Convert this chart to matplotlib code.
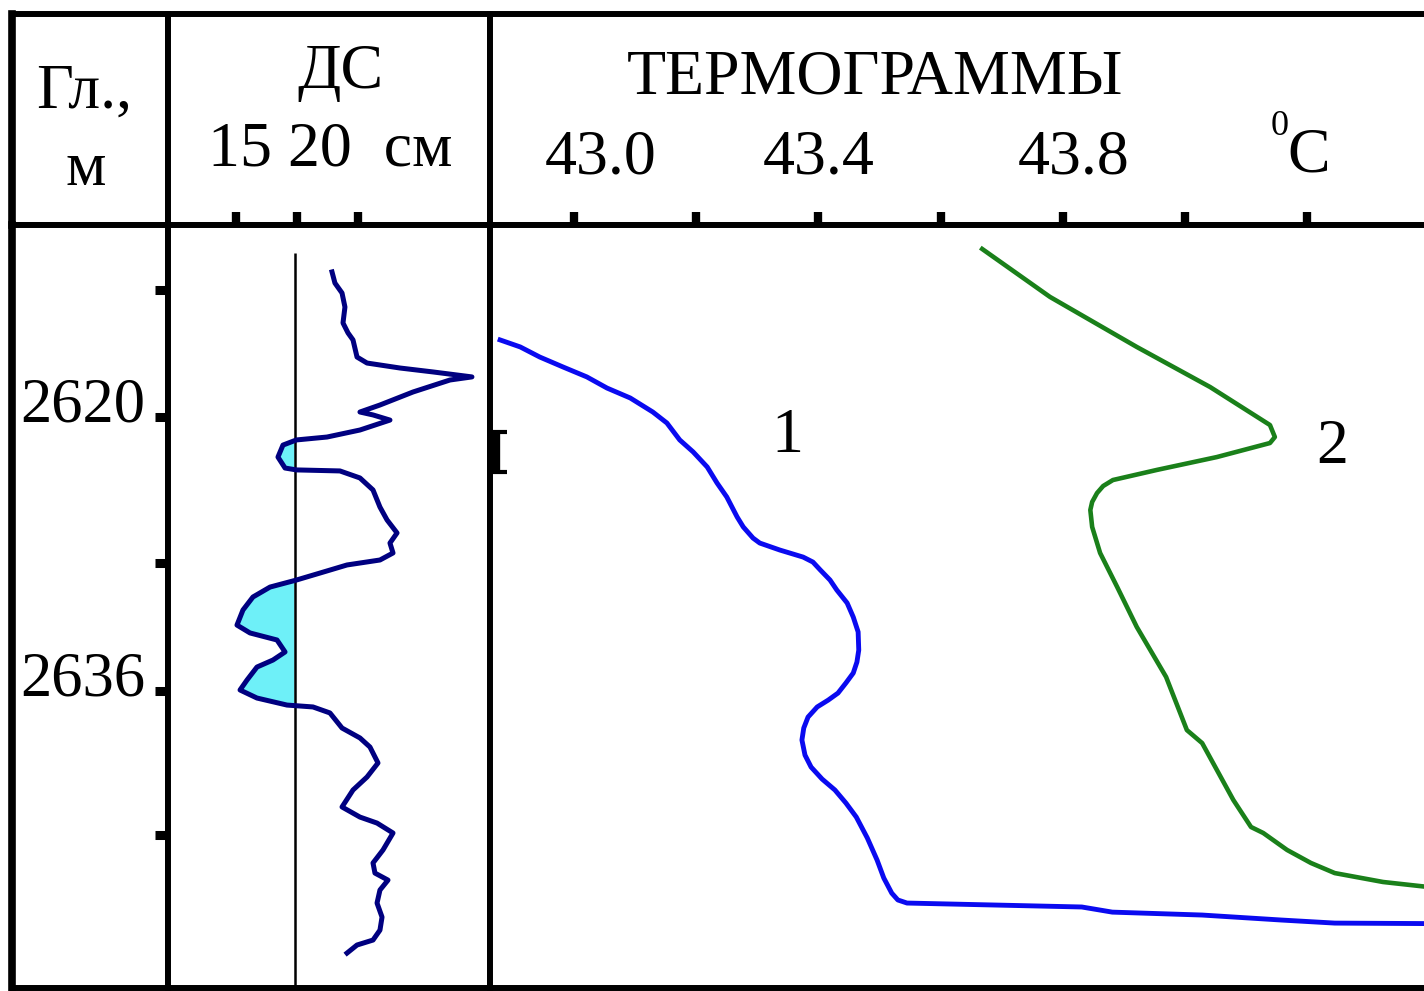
import matplotlib
matplotlib.use("Agg")
import matplotlib.pyplot as plt
from matplotlib.transforms import blended_transform_factory

plt.rcParams["font.family"] = ["Liberation Serif", "DejaVu Serif"]

depth_major = [2620, 2636]
depth_minor = [2612.6, 2628.5, 2644.4]

# caliper (ДС), cm
cal_ticks = [15, 20, 25]
cal_nominal = 19.8
cal_ref_top = 2610.4
cal_depth = [2611.53, 2612.18, 2612.76, 2613.58, 2614.51, 2615.09, 2615.50, 2616.50,
             2616.85, 2617.14, 2617.37, 2617.66, 2617.84, 2618.54, 2619.30, 2619.71,
             2619.88, 2620.18, 2620.76, 2621.17, 2621.34, 2621.64, 2622.34, 2622.98,
             2623.09, 2623.15, 2623.56, 2624.26, 2625.26, 2626.01, 2626.77, 2627.36,
             2627.94, 2628.35, 2628.64, 2629.11, 2629.52, 2629.93, 2630.51, 2631.27,
             2632.15, 2632.61, 2633.02, 2633.72, 2634.19, 2634.60, 2635.36, 2635.94,
             2636.41, 2636.82, 2636.93, 2637.28, 2638.16, 2638.74, 2639.27, 2640.20,
             2641.02, 2641.78, 2642.77, 2643.36, 2643.71, 2644.29, 2645.28, 2646.04,
             2646.63, 2647.04, 2647.62, 2648.38, 2649.20, 2649.96, 2650.54, 2650.83,
             2651.30]
cal_cm = [22.87, 23.11, 23.69, 23.93, 23.77, 24.18, 24.59, 24.92,
          25.74, 28.44, 31.15, 34.34, 32.54, 29.51, 26.80, 25.16,
          26.23, 27.62, 25.16, 22.46, 19.95, 18.85, 18.44, 19.02,
          19.95, 23.52, 25.16, 26.23, 26.80, 27.38, 28.20, 27.62,
          27.87, 26.80, 24.10, 21.89, 19.95, 17.79, 16.39, 15.57,
          15.08, 16.15, 18.36, 19.02, 18.03, 16.72, 15.90, 15.33,
          16.72, 19.18, 21.31, 22.70, 23.69, 25.16, 25.98, 26.64,
          25.74, 24.59, 23.69, 25.16, 26.56, 27.87, 27.05, 26.23,
          26.39, 27.46, 26.80, 26.56, 26.97, 26.80, 26.23, 24.92,
          24.10]

# thermograms, deg C
temp_ticks = [43.0, 43.2, 43.4, 43.6, 43.8, 44.0, 44.2]
temp_labels = ["43.0", "43.4", "43.8"]
temp_label_vals = [43.0, 43.4, 43.8]
temp_unit_val = 44.2

t1_depth = [2615.50, 2615.91, 2616.50, 2617.08, 2617.66, 2618.31, 2618.89, 2619.71,
            2620.35, 2621.34, 2622.04, 2622.92, 2623.85, 2624.67, 2625.84, 2626.42,
            2627.07, 2627.36, 2627.77, 2628.18, 2628.47, 2628.93, 2629.52, 2630.10,
            2630.86, 2631.68, 2632.55, 2633.61, 2634.31, 2634.95, 2635.53, 2636.12,
            2636.53, 2636.93, 2637.52, 2638.16, 2638.86, 2639.74, 2640.44, 2641.14,
            2641.78, 2642.54, 2643.36, 2644.58, 2645.87, 2646.92, 2647.80, 2648.20,
            2648.38, 2648.61, 2648.91, 2649.08, 2649.37, 2649.55, 2649.58]
t1_temp = [42.879, 42.912, 42.944, 42.982, 43.021, 43.054, 43.092, 43.129,
           43.152, 43.173, 43.195, 43.218, 43.234, 43.250, 43.267, 43.277,
           43.293, 43.304, 43.337, 43.375, 43.391, 43.403, 43.419, 43.430,
           43.447, 43.457, 43.465, 43.466, 43.463, 43.457, 43.445, 43.432,
           43.416, 43.398, 43.383, 43.376, 43.373, 43.378, 43.388, 43.406,
           43.427, 43.445, 43.462, 43.480, 43.496, 43.507, 43.520, 43.530,
           43.545, 43.831, 43.881, 44.028, 44.157, 44.245, 44.40]

t2_depth = [2610.19, 2612.99, 2615.91, 2618.25, 2620.47, 2621.17, 2621.52, 2622.34,
            2623.09, 2623.68, 2624.03, 2624.44, 2624.96, 2625.43, 2626.42, 2627.94,
            2629.93, 2632.26, 2635.18, 2638.28, 2639.04, 2642.36, 2643.94, 2644.29,
            2645.28, 2646.04, 2646.63, 2647.15, 2647.45]
t2_temp = [43.668, 43.779, 43.921, 44.041, 44.139, 44.147, 44.139, 44.052,
           43.954, 43.882, 43.866, 43.856, 43.848, 43.845, 43.848, 43.861,
           43.889, 43.921, 43.969, 44.003, 44.028, 44.079, 44.108, 44.128,
           44.167, 44.206, 44.245, 44.324, 44.40]

curve_names = ["1", "2"]
curve_name_pos = [(43.349, 2622.04), (44.241, 2622.69)]

interval = (2620.9, 2623.2)

# ---- layout (pixels of the 1424x991 sheet) ----
W, H = 1424, 991
fig = plt.figure(figsize=(W / 100, H / 100), dpi=100)


def box(x0, y0, x1, y1):
    return [x0 / W, 1 - y1 / H, (x1 - x0) / W, (y1 - y0) / H]


def fx(x):
    return x / W


def fy(y):
    return 1 - y / H


X0, X1, X2, X3 = 12, 168, 490, 1460
Y0, Y1, Y2 = 14, 225, 988
LW = 4.3
FS = 46

ylim = (2653.34, 2608.79)
cal_xlim = (9.426, 35.82)
temp_xlim = (42.8625, 44.450)

# header cells
ax_h0 = fig.add_axes(box(X0, Y0, X1, Y1))
ax_h1 = fig.add_axes(box(X1, Y0, X2, Y1))
ax_h2 = fig.add_axes(box(X2, Y0, X3, Y1))
# log tracks
ax_d = fig.add_axes(box(X0, Y1, X1, Y2))
ax_c = fig.add_axes(box(X1, Y1, X2, Y2))
ax_t = fig.add_axes(box(X2, Y1, X3, Y2))

for ax in [ax_h0, ax_h1, ax_h2, ax_d, ax_c, ax_t]:
    for s in ax.spines.values():
        s.set_linewidth(LW)
        s.set_color("black")
    ax.set_xticks([])
    ax.set_yticks([])
ax_h0.spines["left"].set_linewidth(5.5)
ax_d.spines["left"].set_linewidth(5.5)

ax_h1.set_xlim(cal_xlim)
ax_c.set_xlim(cal_xlim)
ax_h2.set_xlim(temp_xlim)
ax_t.set_xlim(temp_xlim)
for ax in [ax_d, ax_c, ax_t]:
    ax.set_ylim(ylim)

# scale ticks at the bottom of the header
ax_h1.set_xticks(cal_ticks)
ax_h2.set_xticks(temp_ticks)
for ax in [ax_h1, ax_h2]:
    ax.tick_params(axis="x", direction="in", length=9.5, width=6,
                   labelbottom=False, color="black")

# depth ticks
ax_d.set_yticks(depth_major + depth_minor)
ax_d.yaxis.set_ticks_position("right")
ax_d.tick_params(axis="y", direction="in", length=9.5, width=6.5,
                 labelleft=False, labelright=False)
trans_depth = blended_transform_factory(fig.transFigure, ax_d.transData)
for d in depth_major:
    ax_d.annotate(f"{d}", xy=(fx(145), d), xycoords=trans_depth,
                  xytext=(0, -3), textcoords="offset points",
                  ha="right", va="baseline", fontsize=FS - 1)

# header text
fig.text(fx(84), fy(108), "Гл.,", ha="center", va="baseline", fontsize=FS)
fig.text(fx(86), fy(185), "м", ha="center", va="baseline", fontsize=FS)
fig.text(fx(340), fy(88), "ДС", ha="center", va="baseline", fontsize=FS)
fig.text(fx(330), fy(165), "15 20  см", ha="center", va="baseline", fontsize=FS)
fig.text(fx(875), fy(93), "ТЕРМОГРАММЫ", ha="center", va="baseline", fontsize=FS)

trans_temp = blended_transform_factory(ax_h2.transData, fig.transFigure)
label_shift = [19, 0, 8]
for lab, v, dx in zip(temp_labels, temp_label_vals, label_shift):
    ax_h2.annotate(lab, xy=(v, fy(173)), xycoords=trans_temp,
                   xytext=(dx, 0), textcoords="offset points",
                   ha="center", va="baseline", fontsize=FS)
ax_h2.annotate("C", xy=(temp_unit_val, fy(172)), xycoords=trans_temp,
               xytext=(1, 0), textcoords="offset points",
               ha="center", va="baseline", fontsize=FS)
ax_h2.annotate("0", xy=(temp_unit_val, fy(135)), xycoords=trans_temp,
               xytext=(-20, 0), textcoords="offset points",
               ha="center", va="baseline", fontsize=26)

# caliper track
ax_c.vlines(cal_nominal, cal_ref_top, ylim[0], color="black", lw=1.8, zorder=2)
ax_c.fill_betweenx(cal_depth, cal_cm, cal_nominal,
                   where=[c < cal_nominal for c in cal_cm], interpolate=True,
                   color="#6ef0f8", lw=0, zorder=1)
ax_c.plot(cal_cm, cal_depth, color="#000080", lw=3.6, zorder=3,
          solid_joinstyle="round")

# thermograms
ax_t.plot(t1_temp, t1_depth, color="#0a0af0", lw=3.5, solid_joinstyle="round")
ax_t.plot(t2_temp, t2_depth, color="#1a801a", lw=3.3, solid_joinstyle="round")
for name, (tx, ty) in zip(curve_names, curve_name_pos):
    ax_t.text(tx, ty, name, ha="center", va="baseline", fontsize=FS)

# interval mark on the track edge
trans_edge = blended_transform_factory(ax_t.transAxes, ax_t.transData)
ax_t.plot([0.006, 0.006], interval, color="black", lw=6, transform=trans_edge,
          clip_on=False, solid_capstyle="butt")
for d in interval:
    ax_t.plot([0.0, 0.0175], [d, d], color="black", lw=3, transform=trans_edge,
              clip_on=False, solid_capstyle="butt")

fig.savefig("out.png", dpi=100)
